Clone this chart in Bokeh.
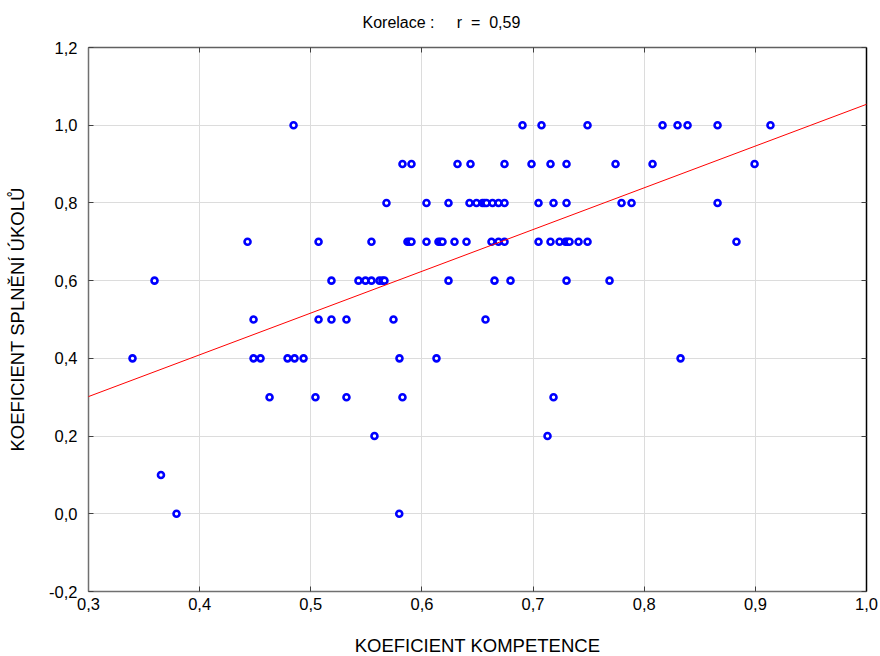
import numpy as np
from bokeh.plotting import figure
from bokeh.models import (LinearAxis, CustomJSTickFormatter, FixedTicker, Title, Slope,
                          ColumnDataSource, Range1d)
from bokeh.embed import file_html
from bokeh.resources import INLINE

# --- data ---
komp_10 = [0.4845, 0.6905, 0.7076, 0.749, 0.8165, 0.830, 0.839, 0.866, 0.9136]
komp_09 = [0.5825, 0.5906, 0.632, 0.6437, 0.6743, 0.6986, 0.7157, 0.7301, 0.7742, 0.8075, 0.8993]
komp_08 = [0.5681, 0.6041, 0.6239, 0.6428, 0.6491, 0.6545, 0.6563, 0.6581, 0.6635, 0.6689,
           0.6743, 0.7049, 0.7184, 0.7301, 0.7796, 0.7886, 0.866]
komp_07 = [0.4431, 0.507, 0.5546, 0.587, 0.5888, 0.5906, 0.6041, 0.6149, 0.6167, 0.6185,
           0.6293, 0.6401, 0.6626, 0.6689, 0.6743, 0.7049, 0.7157, 0.7238, 0.7292, 0.731,
           0.7328, 0.7409, 0.749, 0.883]
komp_06 = [0.3594, 0.5186, 0.5429, 0.5492, 0.5546, 0.5618, 0.5645, 0.5663, 0.6239, 0.6653,
           0.6797, 0.7301, 0.7688]
komp_05 = [0.4485, 0.507, 0.5186, 0.5321, 0.5744, 0.6572]
komp_04 = [0.3396, 0.4485, 0.4548, 0.4791, 0.4854, 0.4935, 0.5798, 0.6131, 0.8327]
komp_03 = [0.4629, 0.5042, 0.5321, 0.5825, 0.7184]
komp_02 = [0.5573, 0.713]
komp_01 = [0.3652]
komp_00 = [0.3792, 0.5796]

groups = [(1.0, komp_10), (0.9, komp_09), (0.8, komp_08), (0.7, komp_07), (0.6, komp_06),
          (0.5, komp_05), (0.4, komp_04), (0.3, komp_03), (0.2, komp_02), (0.1, komp_01),
          (0.0, komp_00)]

kompetence = [x for _, xs in groups for x in xs]
splneni = [y for y, xs in groups for _ in xs]

x_ticks = [0.3, 0.4, 0.5, 0.6, 0.7, 0.8, 0.9, 1.0]
y_ticks = [-0.2, 0.0, 0.2, 0.4, 0.6, 0.8, 1.0, 1.2]
NB = "\u00a0"
title_text = "Korelace" + NB + ":" + NB * 5 + "r" + NB * 2 + "=" + NB * 2 + "0,59"
x_label = "KOEFICIENT KOMPETENCE"
y_label = "KOEFICIENT SPLNĚNÍ ÚKOLŮ"

FONT = "Liberation Sans"

p = figure(frame_width=778, frame_height=544, output_backend="svg", toolbar_location=None,
           x_range=Range1d(0.3, 1.0), y_range=Range1d(-0.2, 1.2),
           min_border_left=88, min_border_right=14, min_border_top=47, min_border_bottom=65,
           x_axis_label=x_label, y_axis_label=y_label)
p.outline_line_color = None
p.background_fill_color = "white"
p.border_fill_color = "white"

fmt = CustomJSTickFormatter(code="return tick.toFixed(1).replace('.', ',');")
blank = CustomJSTickFormatter(code="return '';")

for ax, ticks in ((p.xaxis[0], x_ticks), (p.yaxis[0], y_ticks)):
    ax.ticker = FixedTicker(ticks=ticks)
    ax.formatter = fmt
    ax.major_tick_in = 5
    ax.major_tick_out = 0
    ax.minor_tick_line_color = None
    ax.axis_line_color = "#707070"
    ax.axis_line_width = 1.5
    ax.major_tick_line_color = "#404040"
    ax.major_label_text_font = FONT
    ax.major_label_text_font_size = "16.5px"
    ax.major_label_text_color = "black"
    ax.axis_label_text_font = FONT
    ax.axis_label_text_font_size = "18.5px"
    ax.axis_label_text_font_style = "normal"
    ax.axis_label_text_color = "black"

p.xaxis[0].major_label_standoff = 6
p.xaxis[0].axis_label_standoff = 22
p.yaxis[0].major_label_standoff = 11
p.yaxis[0].axis_label_standoff = 18

top_ax = LinearAxis(ticker=FixedTicker(ticks=x_ticks), formatter=blank,
                    major_tick_in=5, major_tick_out=0, minor_tick_line_color=None,
                    axis_line_color="#606060", axis_line_width=1.5,
                    major_tick_line_color="#404040", major_label_standoff=0)
right_ax = LinearAxis(ticker=FixedTicker(ticks=y_ticks), formatter=blank,
                      major_tick_in=5, major_tick_out=0, minor_tick_line_color=None,
                      axis_line_color="black", axis_line_width=1.5,
                      major_tick_line_color="#404040", major_label_standoff=0)
p.add_layout(top_ax, "above")
p.add_layout(right_ax, "right")

p.xgrid.ticker = FixedTicker(ticks=x_ticks)
p.ygrid.ticker = FixedTicker(ticks=y_ticks)
p.xgrid.grid_line_color = "#dcdcdc"
p.ygrid.grid_line_color = "#dcdcdc"
p.xgrid.grid_line_width = 1
p.ygrid.grid_line_width = 1

# regression line from the data
b, a = np.polyfit(np.array(kompetence), np.array(splneni), 1)
p.add_layout(Slope(gradient=float(b), y_intercept=float(a), line_color="#ff0000", line_width=1))

src = ColumnDataSource(dict(x=kompetence, y=splneni))
p.scatter("x", "y", source=src, marker="circle", size=6, fill_color="white",
          line_color="#0000ff", line_width=2.6)

# second (blank) line lifts the title text up in its panel
t = Title(text=title_text + "\n" + NB, align="left", offset=274, text_font=FONT,
          text_font_size="16px", text_font_style="normal", text_color="black", standoff=0)
p.add_layout(t, "above")

open("out.html", "w").write(file_html(p, INLINE))
